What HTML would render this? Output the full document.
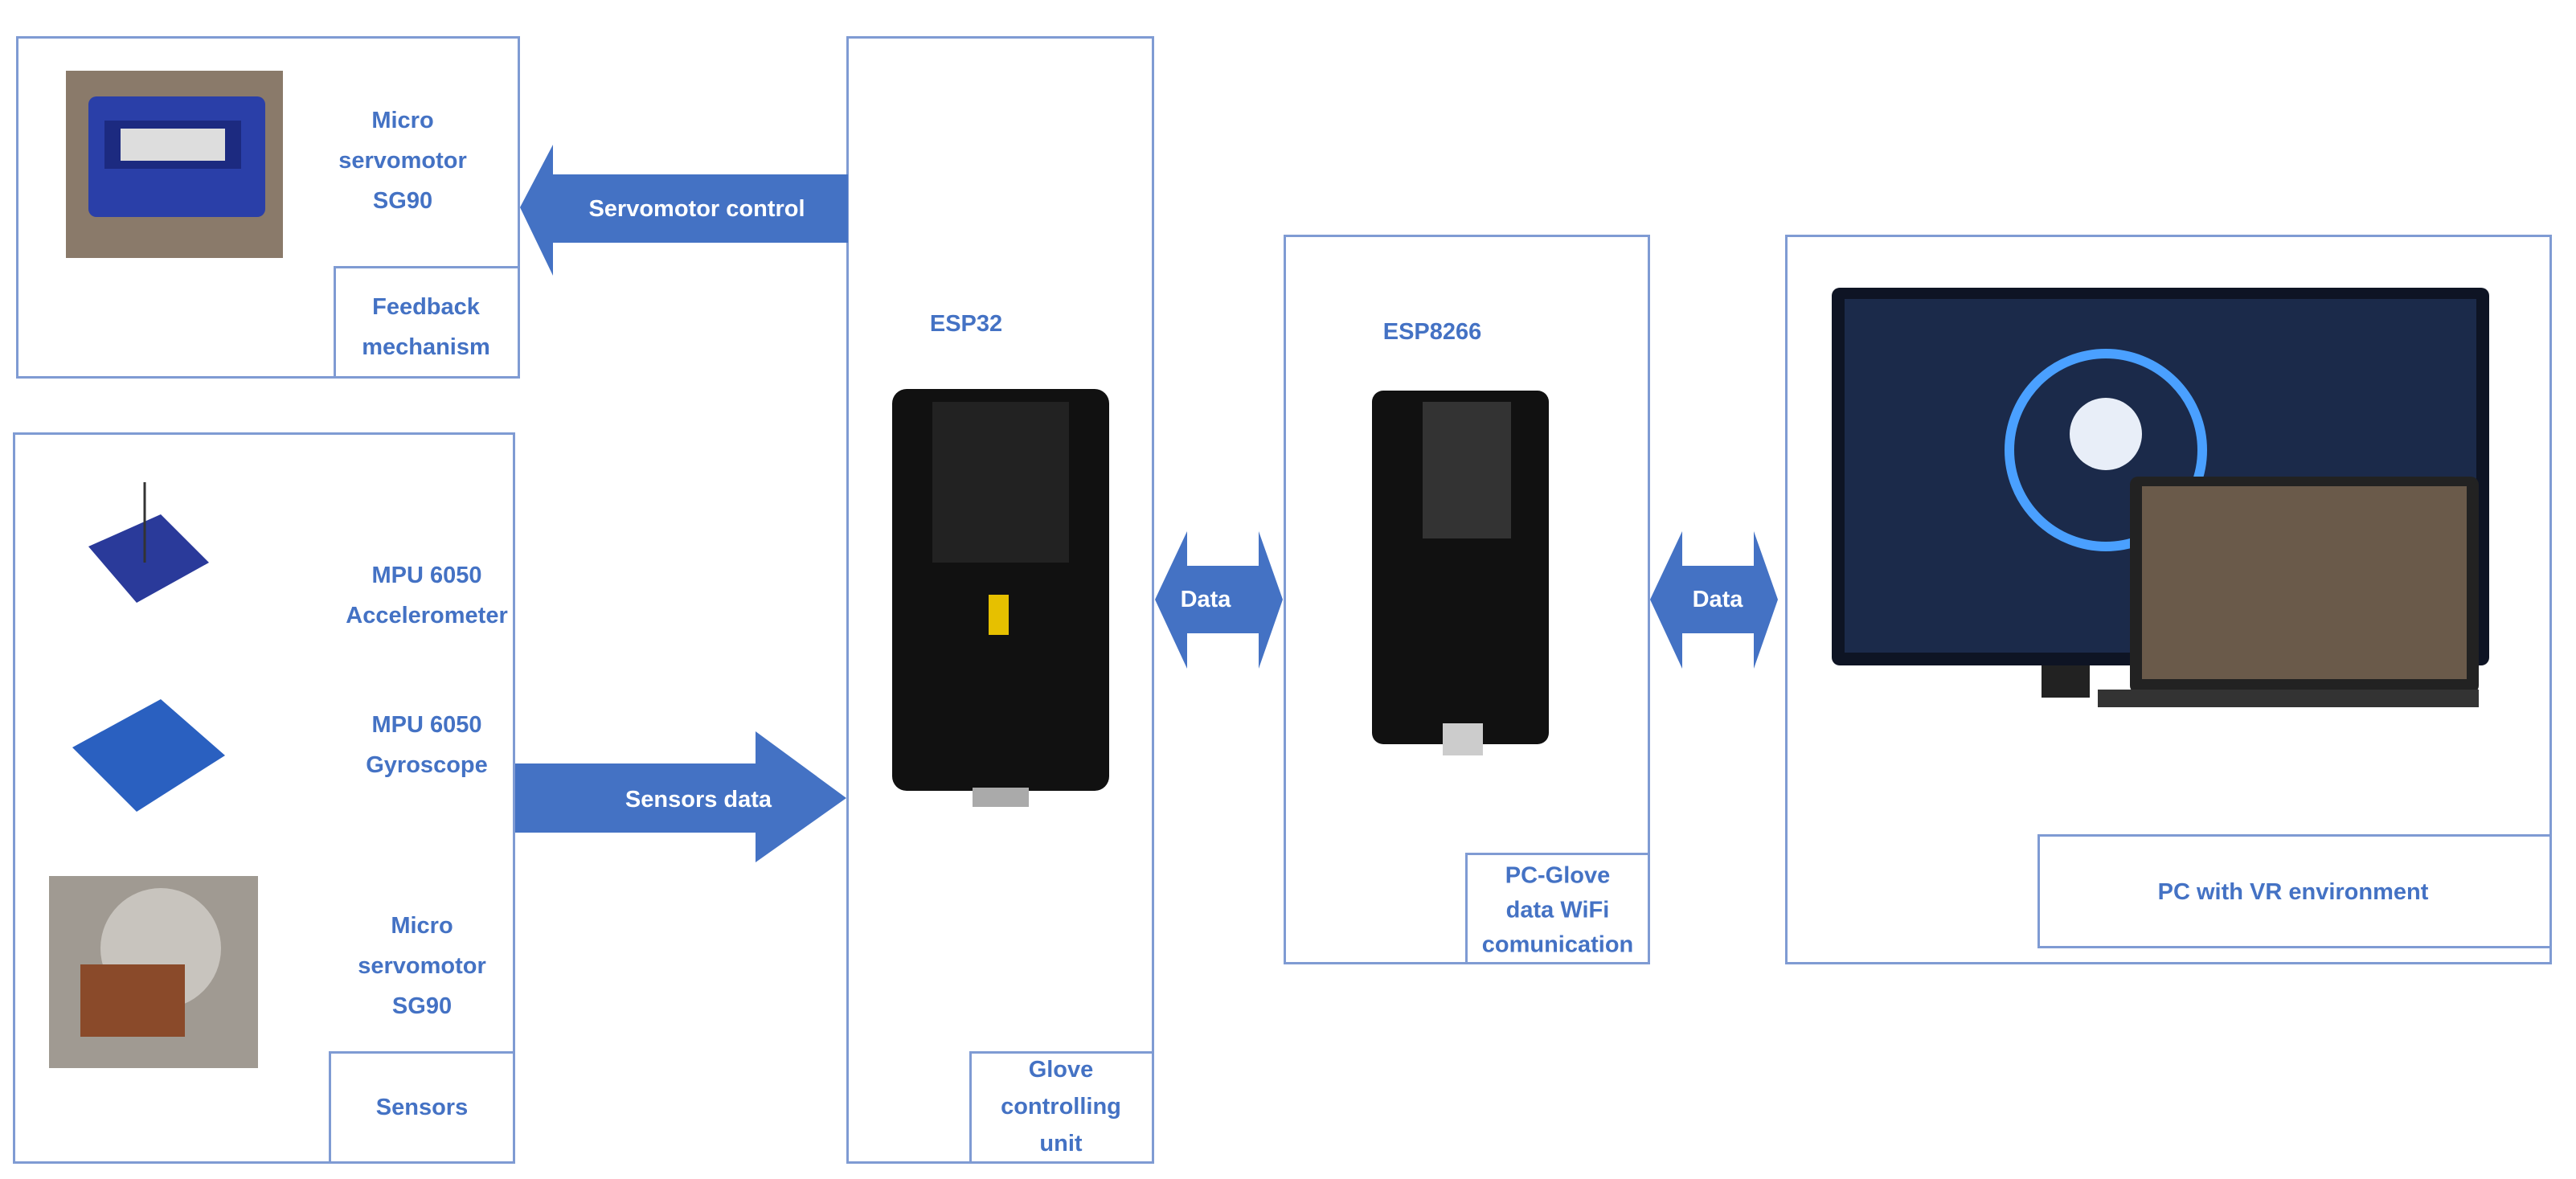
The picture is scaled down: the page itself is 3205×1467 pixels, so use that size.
<!DOCTYPE html>
<html><head><meta charset="utf-8"><style>
body{margin:0;width:3205px;height:1467px;position:relative;background:#fff;font-family:"Liberation Sans",sans-serif;overflow:hidden}
.b{position:absolute;border:3px solid #7f9bd3;box-sizing:border-box;background:#fff}
.t{position:absolute;color:#4472C4;font-weight:bold;font-size:29px;text-align:center;line-height:50px;transform:translate(-50%,-50%);white-space:nowrap}
.w{color:#fff}
</style></head><body>
<div class="b" style="left:20px;top:45px;width:627px;height:426px"></div>
<div class="b" style="left:415px;top:331px;width:232px;height:140px"></div>
<div class="b" style="left:16px;top:538px;width:625px;height:910px"></div>
<div class="b" style="left:409px;top:1308px;width:232px;height:140px"></div>
<div class="b" style="left:1053px;top:45px;width:383px;height:1403px"></div>
<div class="b" style="left:1206px;top:1308px;width:230px;height:140px"></div>
<div class="b" style="left:1597px;top:292px;width:456px;height:908px"></div>
<div class="b" style="left:1823px;top:1061px;width:230px;height:139px"></div>
<div class="b" style="left:2221px;top:292px;width:954px;height:908px"></div>
<div class="b" style="left:2535px;top:1038px;width:640px;height:142px"></div>

<svg style="position:absolute;left:0;top:0" width="3205" height="1467">
<g fill="#4472C4">
<polygon points="647,258 688,180 688,217 1055,217 1055,302 688,302 688,343"/>
<polygon points="641,950 940,950 940,910 1053,993 940,1073 940,1036 641,1036"/>
<polygon points="1437,746 1477,661 1477,704 1566,704 1566,661 1596,746 1566,832 1566,788 1477,788 1477,832"/>
<polygon points="2053,746 2093,661 2093,704 2182,704 2182,661 2212,746 2182,832 2182,788 2093,788 2093,832"/>
</g>
<rect x="82" y="88" width="270" height="233" fill="#8a7a6a"/>
<rect x="110" y="120" width="220" height="150" rx="10" fill="#2a3fa8"/>
<rect x="130" y="150" width="170" height="60" fill="#1c2a80"/>
<rect x="150" y="160" width="130" height="40" fill="#ddd"/>
<rect x="72" y="572" width="241" height="225" fill="#fff"/>
<polygon points="110,680 200,640 260,700 170,750" fill="#2a3a9a"/>
<line x1="180" y1="600" x2="180" y2="700" stroke="#333" stroke-width="3"/>
<rect x="61" y="818" width="256" height="235" fill="#fff"/>
<polygon points="90,930 200,870 280,940 170,1010" fill="#2a60c0"/>
<rect x="61" y="1090" width="260" height="239" fill="#a09a92"/>
<circle cx="200" cy="1180" r="75" fill="#c8c4be"/>
<rect x="100" y="1200" width="130" height="90" fill="#8a4a2a"/>
<rect x="1110" y="484" width="270" height="500" rx="18" fill="#111"/>
<rect x="1160" y="500" width="170" height="200" fill="#222"/>
<rect x="1210" y="980" width="70" height="24" fill="#aaa"/>
<rect x="1230" y="740" width="25" height="50" fill="#e6c000"/>
<rect x="1707" y="486" width="220" height="440" rx="14" fill="#111"/>
<rect x="1770" y="500" width="110" height="170" fill="#333"/>
<rect x="1795" y="900" width="50" height="40" fill="#ccc"/>
<rect x="2279" y="358" width="818" height="470" rx="10" fill="#0e1424"/>
<rect x="2295" y="372" width="786" height="440" fill="#1b2a4a"/>
<circle cx="2620" cy="560" r="120" fill="none" stroke="#4aa0ff" stroke-width="12"/>
<circle cx="2620" cy="540" r="45" fill="#e8eef8"/>
<rect x="2540" y="828" width="60" height="40" fill="#222"/>
<rect x="2650" y="593" width="434" height="270" rx="10" fill="#222"/>
<rect x="2665" y="605" width="404" height="240" fill="#6a5a4a"/>
<rect x="2610" y="858" width="474" height="22" fill="#333"/>
</svg>

<div class="t" style="left:501px;top:200px">Micro<br>servomotor<br>SG90</div>
<div class="t" style="left:530px;top:407px">Feedback<br>mechanism</div>
<div class="t" style="left:531px;top:741px">MPU 6050<br>Accelerometer</div>
<div class="t" style="left:531px;top:927px">MPU 6050<br>Gyroscope</div>
<div class="t" style="left:525px;top:1202px">Micro<br>servomotor<br>SG90</div>
<div class="t" style="left:525px;top:1378px">Sensors</div>
<div class="t" style="left:1202px;top:403px">ESP32</div>
<div class="t" style="left:1320px;top:1377px;line-height:46px">Glove<br>controlling<br>unit</div>
<div class="t" style="left:1782px;top:413px">ESP8266</div>
<div class="t" style="left:1938px;top:1133px;line-height:43px">PC-Glove<br>data WiFi<br>comunication</div>
<div class="t" style="left:2853px;top:1110px">PC with VR environment</div>
<div class="t w" style="left:867px;top:260px">Servomotor control</div>
<div class="t w" style="left:869px;top:995px">Sensors data</div>
<div class="t w" style="left:1500px;top:746px">Data</div>
<div class="t w" style="left:2137px;top:746px">Data</div>
</body></html>
